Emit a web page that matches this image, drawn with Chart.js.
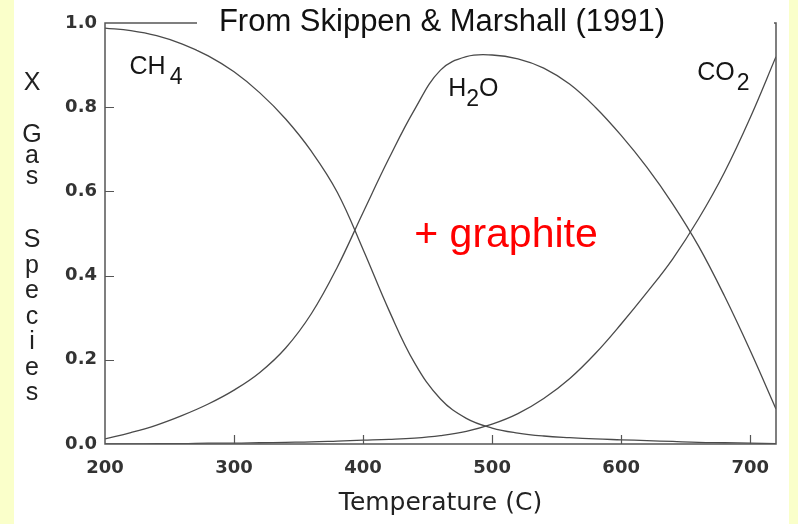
<!DOCTYPE html>
<html>
<head>
<meta charset="utf-8">
<script src="https://cdn.jsdelivr.net/npm/chart.js@4.4.1/dist/chart.umd.min.js"></script>
<style>
  html, body { margin: 0; padding: 0; background: #FAFFCA; }
  #chart { display: block; }
</style>
</head>
<body>
<canvas id="chart" width="798" height="524"></canvas>
<script>
// ======================
// DATA
// ======================
const temps = [200, 220, 240, 260, 280, 300, 320, 340, 360, 380, 400, 420, 440, 460,
               480, 500, 520, 540, 560, 580, 600, 620, 640, 660, 680, 700, 720];

const ch4 = [0.988, 0.982, 0.970, 0.950, 0.922, 0.884, 0.834, 0.772, 0.695, 0.598, 0.462, 0.318, 0.192, 0.107,
             0.061, 0.038, 0.026, 0.019, 0.015, 0.012, 0.010, 0.008, 0.006, 0.004, 0.003, 0.002, 0.001];

const h2o = [0.012, 0.027, 0.045, 0.068, 0.095, 0.128, 0.170, 0.228, 0.310, 0.420, 0.550, 0.678, 0.795, 0.888,
             0.920, 0.924, 0.915, 0.893, 0.855, 0.800, 0.733, 0.657, 0.570, 0.470, 0.352, 0.222, 0.083];

const co2 = [0.000, 0.000, 0.001, 0.001, 0.002, 0.002, 0.003, 0.004, 0.005, 0.007, 0.009, 0.011, 0.014, 0.020,
             0.030, 0.047, 0.072, 0.108, 0.155, 0.215, 0.285, 0.360, 0.440, 0.535, 0.645, 0.775, 0.920];

const xTicks = [200, 300, 400, 500, 600, 700];
const yTicks = [0, 0.2, 0.4, 0.6, 0.8, 1.0];

const titleText = "From Skippen & Marshall (1991)";
const xTitle = "Temperature (C)";
const yTitleWords = ["X", "Gas", "Species"];


// ======================
// HELPERS
// ======================
function toPoints(xs, ys) {
    return xs.map((x, i) => ({ x: x, y: ys[i] }));
}

function lineSet(label, values) {
    return {
        label: label,
        data: toPoints(temps, values),
        borderColor: "#4a4a4a",
        borderWidth: 1.3,
        pointRadius: 0,
        fill: false,
        tension: 0.4
    };
}

// chemical label with a lowered subscript
function drawFormula(ctx, parts, x, y) {
    let cx = x;
    parts.forEach(p => {
        ctx.font = p.sub ? "23px 'Liberation Sans'" : "25px 'Liberation Sans'";
        ctx.fillText(p.t, cx, p.sub ? y + 10 : y);
        cx += ctx.measureText(p.t).width + (p.gap || 0);
    });
}


// ======================
// FRAME / TEXT PLUGIN
// ======================
const paperPlugin = {
    id: "paper",
    beforeDraw(chart) {
        const ctx = chart.ctx;
        ctx.save();
        ctx.fillStyle = "#FAFFCA";
        ctx.fillRect(0, 0, chart.width, chart.height);
        ctx.fillStyle = "#ffffff";
        ctx.fillRect(14, 0, 775, chart.height);
        ctx.restore();
    },
    afterDatasetsDraw(chart) {
        const ctx = chart.ctx;
        const a = chart.chartArea;
        const xs = chart.scales.x;
        const ys = chart.scales.y;

        ctx.save();

        // box round the plot
        ctx.strokeStyle = "#555555";
        ctx.lineWidth = 1.5;
        ctx.beginPath();
        ctx.moveTo(a.left, a.top);
        ctx.lineTo(a.right, a.top);
        ctx.lineTo(a.right, a.bottom);
        ctx.lineTo(a.left, a.bottom);
        ctx.closePath();
        ctx.stroke();

        // inward ticks
        ctx.lineWidth = 1.2;
        ctx.beginPath();
        xTicks.forEach(v => {
            if (v === xs.min) return;
            const px = Math.round(xs.getPixelForValue(v)) + 0.5;
            ctx.moveTo(px, a.bottom);
            ctx.lineTo(px, a.bottom - 9);
        });
        yTicks.forEach(v => {
            if (v === ys.min || v === ys.max) return;
            const py = Math.round(ys.getPixelForValue(v)) + 0.5;
            ctx.moveTo(a.left, py);
            ctx.lineTo(a.left + 9, py);
        });
        ctx.stroke();

        // white box behind the source title (hides part of the frame)
        ctx.fillStyle = "#ffffff";
        ctx.fillRect(197, 0, 577, 50);

        ctx.fillStyle = "#111111";
        ctx.textBaseline = "middle";
        ctx.textAlign = "center";
        ctx.font = "31px 'Liberation Sans'";
        ctx.fillText(titleText, 442, 22);

        // axis titles
        ctx.fillStyle = "#222222";
        ctx.font = "25px 'DejaVu Sans'";
        ctx.fillText(xTitle, (a.left + a.right) / 2, 503);

        // stacked letters of the y title
        ctx.textBaseline = "alphabetic";
        ctx.font = "25px 'Liberation Sans'";
        const starts = [90, 142, 247];
        const pitch = [0, 21, 25.5];
        yTitleWords.forEach((w, wi) => {
            w.split("").forEach((ch, i) => {
                ctx.fillText(ch, 32, starts[wi] + i * pitch[wi]);
            });
        });

        // curve labels
        ctx.textAlign = "left";
        ctx.fillStyle = "#151515";
        drawFormula(ctx, [{ t: "CH", gap: 4 }, { t: "4", sub: true }], xs.getPixelForValue(219), 74);
        drawFormula(ctx, [{ t: "H" }, { t: "2", sub: true }, { t: "O" }], xs.getPixelForValue(466), 96);
        drawFormula(ctx, [{ t: "CO", gap: 2 }, { t: "2", sub: true }], xs.getPixelForValue(659), 80);

        // red note
        ctx.fillStyle = "#ff0000";
        ctx.textAlign = "center";
        ctx.textBaseline = "middle";
        ctx.font = "41px 'Liberation Sans'";
        ctx.fillText("+ graphite", 506, 236);

        ctx.restore();
    }
};


// ======================
// CHART
// ======================
const tickFont = { family: "'DejaVu Sans'", size: 18, weight: "bold" };

new Chart(document.getElementById("chart"), {
    type: "line",
    data: {
        datasets: [
            lineSet("CH4", ch4),
            lineSet("H2O", h2o),
            lineSet("CO2", co2)
        ]
    },
    options: {
        responsive: false,
        animation: false,
        devicePixelRatio: 1,
        layout: { padding: { left: 0, right: 22, top: 23, bottom: 0 } },
        plugins: {
            legend: { display: false },
            tooltip: { enabled: false }
        },
        scales: {
            x: {
                type: "linear",
                min: 200,
                max: 720,
                grid: { display: false, drawTicks: false },
                border: { display: false },
                afterBuildTicks: s => { s.ticks = xTicks.map(v => ({ value: v })); },
                afterFit: s => { s.height = 80; },
                ticks: {
                    padding: 14,
                    color: "#333333",
                    font: tickFont,
                    maxRotation: 0,
                    autoSkip: false,
                    callback: v => String(v)
                }
            },
            y: {
                min: 0,
                max: 1,
                grid: { display: false, drawTicks: false },
                border: { display: false },
                afterBuildTicks: s => { s.ticks = yTicks.map(v => ({ value: v })); },
                afterFit: s => { s.width = 105; },
                ticks: {
                    padding: 8,
                    color: "#333333",
                    font: tickFont,
                    autoSkip: false,
                    callback: v => Number(v).toFixed(1)
                }
            }
        }
    },
    plugins: [paperPlugin]
});
</script>
</body>
</html>
